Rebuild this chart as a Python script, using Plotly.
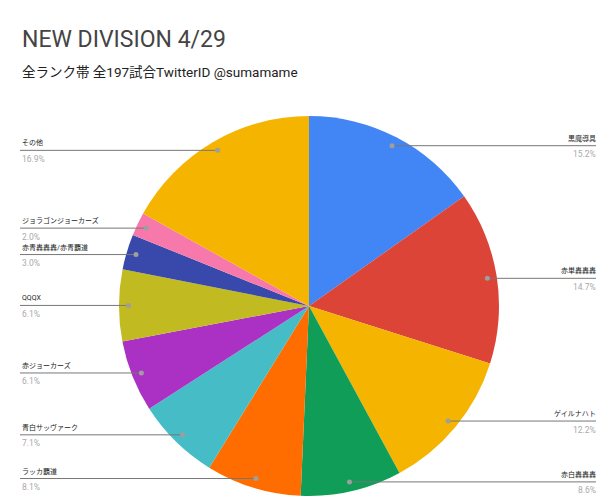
import math
import plotly.graph_objects as go

# the page body adds an 8px margin, so draw on a slightly smaller figure
# and shift every reference pixel position by OFF
OFF = 8
W, H = 604 - OFF, 501 - OFF

# deck names and share (%) of 197 games, clockwise from 12 o'clock
decks = ["黒魔導具", "赤単轟轟轟", "ゲイルナハト", "赤白轟轟轟", "ラッカ覇道",
         "青白サッヴァーク", "赤ジョーカーズ", "QQQX", "赤青轟轟轟/赤青覇道",
         "ジョラゴンジョーカーズ", "その他"]
shares = [15.2, 14.7, 12.2, 8.6, 8.1, 7.1, 6.1, 6.1, 3.0, 2.0, 16.9]
colors = ["#4285f4", "#db4437", "#f4b400", "#0f9d58", "#ff6d00", "#46bdc6",
          "#ab30c4", "#c1ba21", "#3949ab", "#f779ab", "#f4b400"]

FONT = "Roboto, 'Noto Sans CJK JP', sans-serif"

# pie placement in reference pixels
cx, cy, R = 309, 306, 190


def px(x):
    return (x - OFF) / W


def py(y):
    return 1 - (y - OFF) / H


fig = go.Figure(go.Pie(
    labels=decks, values=shares, sort=False, direction="clockwise",
    rotation=0, marker=dict(colors=colors, line=dict(width=0)),
    textinfo="none", showlegend=False,
    domain=dict(x=[px(cx - R), px(cx + R)], y=[py(cy + R), py(cy - R)]),
))

shapes = []
annotations = [
    dict(text="NEW DIVISION 4/29", x=px(20), y=py(39), xref="paper", yref="paper",
         xanchor="left", yanchor="middle", showarrow=False,
         font=dict(family=FONT, size=23, color="#444444")),
    dict(text="全ランク帯 全197試合TwitterID @sumamame", x=px(20), y=py(72),
         xref="paper", yref="paper", xanchor="left", yanchor="middle",
         showarrow=False, font=dict(family=FONT, size=13.5, color="#222222")),
]

total = sum(shares)
cum = 0
for name, v in zip(decks, shares):
    mid = (cum + v / 2) / total * 2 * math.pi
    cum += v
    dx = cx + 0.95 * R * math.sin(mid)
    dy = cy - 0.95 * R * math.cos(mid)
    right = math.sin(mid) > 0
    lx = 598 if right else 20
    shapes.append(dict(type="line", xref="paper", yref="paper",
                       x0=px(lx), x1=px(dx), y0=py(dy), y1=py(dy),
                       line=dict(color="#777777", width=1)))
    shapes.append(dict(type="circle", xref="paper", yref="paper",
                       x0=px(dx - 2.5), x1=px(dx + 2.5),
                       y0=py(dy + 2.5), y1=py(dy - 2.5),
                       fillcolor="#9e9e9e", line=dict(width=0)))
    anchor = "right" if right else "left"
    annotations.append(dict(text=name, x=px(lx), y=py(dy - 1), xref="paper",
                            yref="paper", xanchor=anchor, yanchor="bottom",
                            showarrow=False,
                            font=dict(family=FONT, size=7, color="#222222")))
    annotations.append(dict(text=f"{v:.1f}%", x=px(lx), y=py(dy + 1.5),
                            xref="paper", yref="paper", xanchor=anchor,
                            yanchor="top", showarrow=False,
                            font=dict(family=FONT, size=8.5, color="#aaaaaa")))

fig.update_layout(
    width=W, height=H, margin=dict(l=0, r=0, t=0, b=0),
    paper_bgcolor="white", plot_bgcolor="white",
    shapes=shapes, annotations=annotations,
)

fig.write_html("out.html")
